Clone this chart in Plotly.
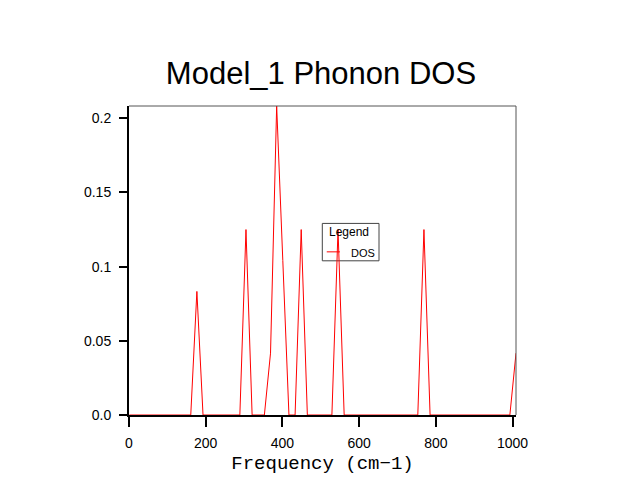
import plotly.graph_objects as go

# phonon DOS (frequency in cm-1)
freq = [1, 161, 177, 193, 289, 305, 321, 353, 369, 385, 401, 417,
        433, 449, 465, 529, 545, 561, 753, 769, 785, 993, 1009]
dos = [0, 0, 0.0833, 0, 0, 0.125, 0, 0, 0.0417, 0.2083, 0.1042, 0,
       0, 0.125, 0, 0, 0.125, 0, 0, 0.125, 0, 0, 0.0417]

x_ticks = [0, 200, 400, 600, 800, 1000]
y_ticks = [0, 0.05, 0.1, 0.15, 0.2]
y_labels = ["0.0", "0.05", "0.1", "0.15", "0.2"]

RED = "#ff0000"
SANS = "Liberation Sans, Arial, sans-serif"

fig = go.Figure()
fig.add_trace(go.Scatter(x=freq, y=dos, mode="lines", name="DOS",
                         showlegend=False, line=dict(color=RED, width=1)))

# the original key sits behind the data, so draw it as shapes below the trace
legend_shapes = [
    dict(type="rect", xref="paper", yref="paper", x0=0.4995, x1=0.646,
         y0=0.499, y1=0.62, line=dict(color="#444444", width=1),
         fillcolor="white", layer="below"),
    dict(type="line", xref="paper", yref="paper", x0=0.511, x1=0.545,
         y0=0.528, y1=0.528, line=dict(color=RED, width=1), layer="below"),
]
frame_shapes = [
    dict(type="line", xref="paper", yref="paper", x0=0, x1=1, y0=1, y1=1,
         line=dict(color="#555555", width=1)),
    dict(type="line", xref="paper", yref="paper", x0=1, x1=1, y0=0, y1=1,
         line=dict(color="#555555", width=1)),
]

fig.update_layout(
    width=642, height=482,
    # page body adds 8px, so margins are pulled in by that much
    margin=dict(l=121, r=134, t=98, b=75),
    paper_bgcolor="white", plot_bgcolor="white",
    font=dict(family=SANS, color="black", size=14),
    title=dict(text="Model_1 Phonon DOS", x=0.4875, xanchor="center",
               y=0.865, yanchor="middle",
               font=dict(size=31, color="black")),
    shapes=legend_shapes + frame_shapes,
    annotations=[
        dict(text="Legend", xref="paper", yref="paper", x=0.568, y=0.591,
             xanchor="center", yanchor="middle", showarrow=False,
             font=dict(family=SANS, size=12, color="black")),
        dict(text="DOS", xref="paper", yref="paper", x=0.569, y=0.523,
             xanchor="left", yanchor="middle", showarrow=False,
             font=dict(family=SANS, size=11, color="black")),
    ],
)

fig.update_xaxes(range=[0, 1009], tickvals=x_ticks, ticks="outside",
                 ticklen=10, tickwidth=2, tickcolor="black",
                 ticklabelstandoff=4,
                 showline=True, linewidth=2, linecolor="black",
                 showgrid=False, zeroline=False,
                 title=dict(text="Frequency (cm\u22121)", standoff=6,
                            font=dict(family="Liberation Mono, Courier New, monospace",
                                      size=19, color="black")))
fig.update_yaxes(range=[0, 0.2083], tickvals=y_ticks, ticktext=y_labels,
                 ticks="outside", ticklen=8, tickwidth=2, tickcolor="black",
                 ticklabelstandoff=5,
                 showline=True, linewidth=2, linecolor="black",
                 showgrid=False, zeroline=False)

fig.write_html("out.html")
